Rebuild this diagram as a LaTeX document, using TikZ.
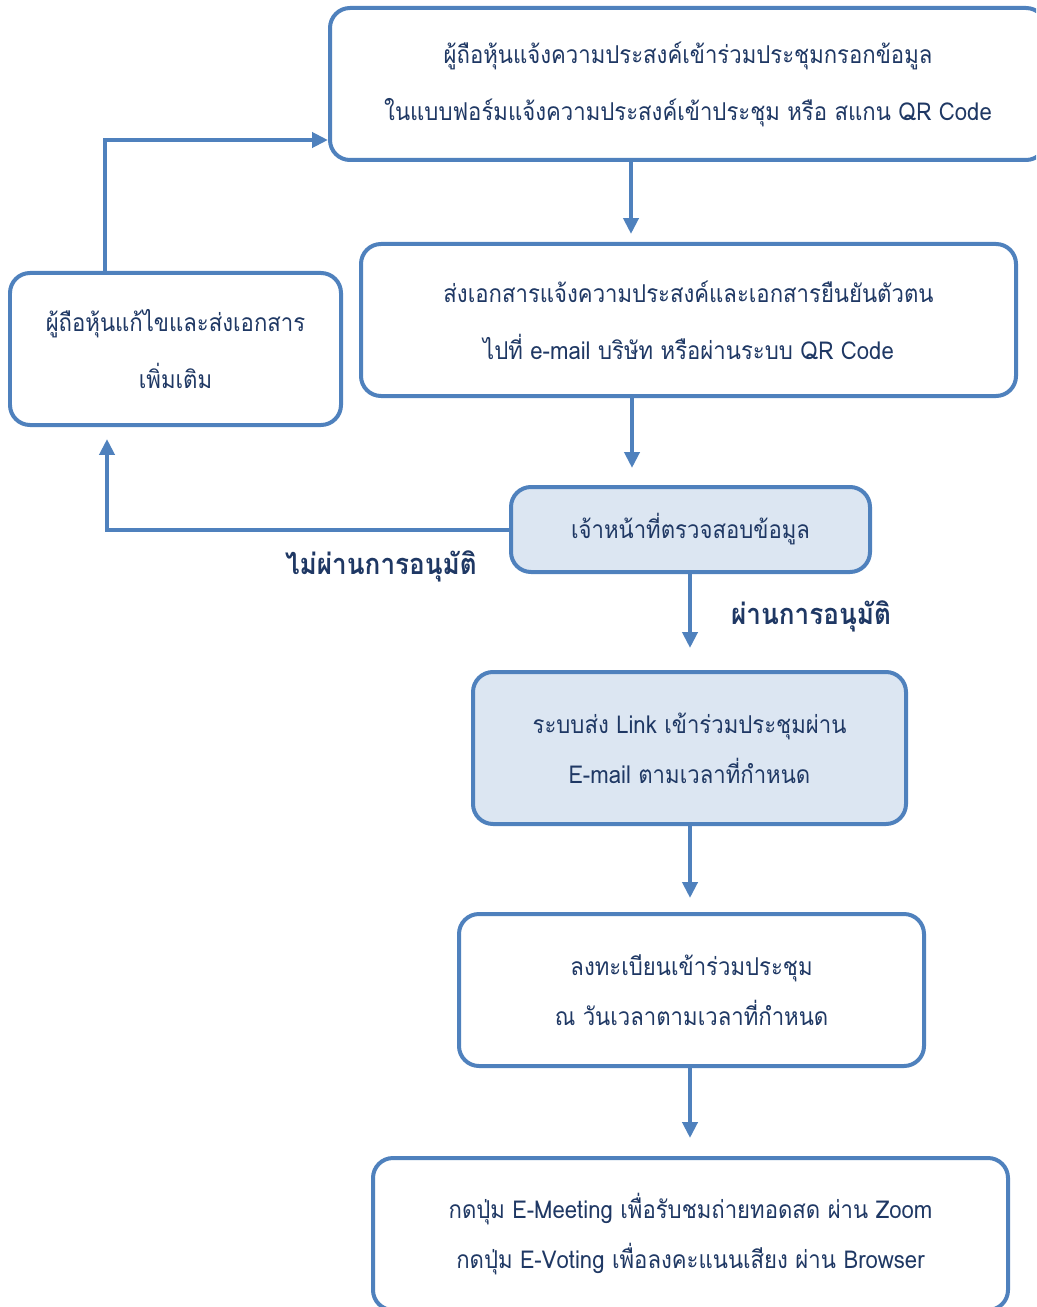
\documentclass[tikz,border=0pt]{standalone}
\usepackage{fontspec}
\newfontfamily\thaifont[Script=Thai,FakeStretch=0.9]{Loma}
\usetikzlibrary{arrows.meta,calc}
\definecolor{bord}{HTML}{4F81BD}
\definecolor{txt}{HTML}{1F3864}
\definecolor{lfill}{HTML}{DCE6F2}
\begin{document}
\begin{tikzpicture}[x=0.02cm,y=-0.02cm,
  box/.style={draw=bord,line width=0.08cm,rounded corners=0.4cm,fill=white,
    text=txt,align=center,inner sep=0pt,font=\thaifont\fontsize{14}{32.5}\selectfont},
  lbox/.style={box,fill=lfill,font=\thaifont\fontsize{14}{28.4}\selectfont},
  sbox/.style={box,font=\thaifont\fontsize{14}{28.4}\selectfont},
  arr/.style={draw=bord,line width=0.08cm,-{Triangle[length=0.32cm,width=0.3cm]}},
  lab/.style={text=txt,font=\thaifont\bfseries\fontsize{16.5}{20}\selectfont,inner sep=0pt}]
\useasboundingbox (0,0) rectangle (1036,1307);
\clip (0,0) rectangle (1036,1307);
\node[box,minimum width=716*0.02cm,minimum height=152*0.02cm] (top) at (688,84)
  {ผู้ถือหุ้นแจ้งความประสงค์เข้าร่วมประชุมกรอกข้อมูล\\ในแบบฟอร์มแจ้งความประสงค์เข้าประชุม หรือ สแกน QR Code};
\node[box,minimum width=655*0.02cm,minimum height=152*0.02cm] (send) at (688.5,320)
  {ส่งเอกสารแจ้งความประสงค์และเอกสารยืนยันตัวตน\\ไปที่ e-mail บริษัท หรือผ่านระบบ QR Code};
\node[box,minimum width=331*0.02cm,minimum height=152*0.02cm] (fix) at (175.5,349)
  {ผู้ถือหุ้นแก้ไขและส่งเอกสาร\\เพิ่มเติม};
\node[lbox,minimum width=359*0.02cm,minimum height=85*0.02cm] (check) at (690.5,529.5)
  {เจ้าหน้าที่ตรวจสอบข้อมูล};
\node[lbox,minimum width=433*0.02cm,minimum height=152*0.02cm] (link) at (689.5,748)
  {ระบบส่ง Link เข้าร่วมประชุมผ่าน\\E-mail ตามเวลาที่กำหนด};
\node[sbox,minimum width=465*0.02cm,minimum height=152*0.02cm] (reg) at (691.5,990)
  {ลงทะเบียนเข้าร่วมประชุม\\ณ วันเวลาตามเวลาที่กำหนด};
\node[sbox,minimum width=635*0.02cm,minimum height=152*0.02cm] (vote) at (690.5,1234)
  {กดปุ่ม E-Meeting เพื่อรับชมถ่ายทอดสด ผ่าน Zoom\\กดปุ่ม E-Voting เพื่อลงคะแนนเสียง ผ่าน Browser};
\coordinate (xa) at (631,0);
\coordinate (xb) at (632,0);
\coordinate (xc) at (690,0);
\coordinate (xl) at (107,0);
\coordinate (xu) at (105,0);
\coordinate (yu) at (0,140);
\draw[arr,shorten >=0.16cm] (top.south -| xa) -- (send.north -| xa);
\draw[arr,shorten >=0.34cm] (send.south -| xb) -- (check.north -| xb);
\draw[arr,shorten >=0.44cm] (check.south -| xc) -- (link.north -| xc);
\draw[arr,shorten >=0.28cm] (link.south -| xc) -- (reg.north -| xc);
\draw[arr,shorten >=0.36cm] (reg.south -| xc) -- (vote.north -| xc);
\draw[arr,shorten >=0.24cm] (check.west) -- (check.west -| xl) -- (fix.south -| xl);
\draw[arr] (fix.north -| xu) -- (xu |- yu) -- (top.west |- yu);
\node[lab] (no) at (381,566) {ไม่ผ่านการอนุมัติ};
\node[lab] (yes) at (811,616) {ผ่านการอนุมัติ};
\end{tikzpicture}
\end{document}
